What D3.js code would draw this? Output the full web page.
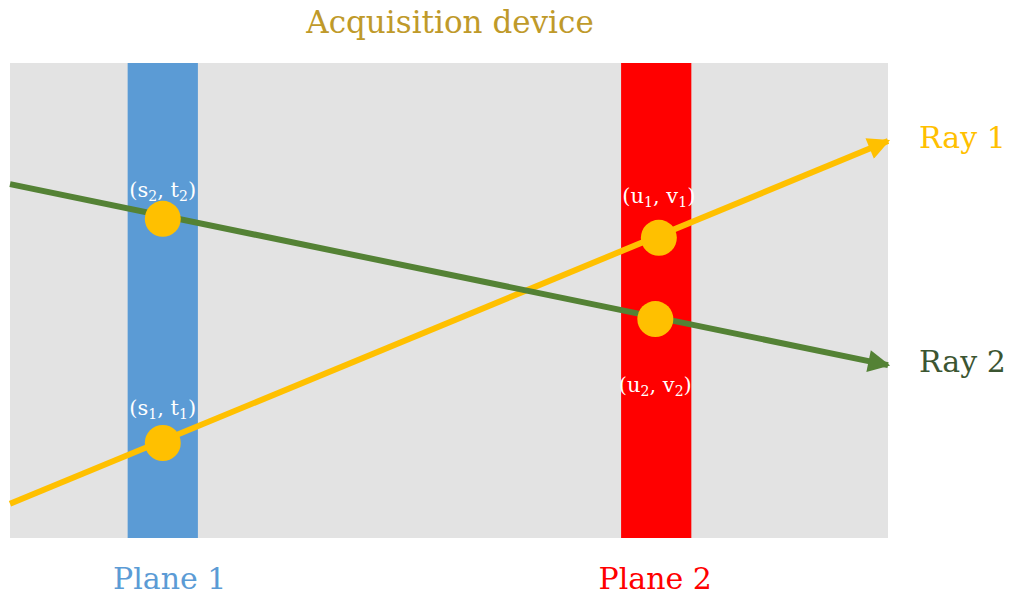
<!DOCTYPE html>
<html>
  <head>
    <meta charset="utf-8">
    <script src="https://d3js.org/d3.v7.min.js"></script>
    <style>
      body { margin: 0; background: #fff; }
      text { font-family: "DejaVu Serif", "Liberation Serif", serif; }
    </style>
  </head>
  <body>
    <div id="diagram"></div>
    <script>
      // device coordinates: 0..100 both ways, y going up
      var planes = ["Plane 1", "Plane 2"];
      var planeX = [17.4, 73.6];
      var planeColors = ["#5b9bd5", "#ff0000"];

      var rays = ["Ray 1", "Ray 2"];
      var rayStart = [[0, 7.2], [0, 74.5]];
      var rayEnd = [[100, 83.6], [100, 36.4]];
      var rayColors = ["#ffc000", "#548235"];
      var rayLabelColors = ["#ffc000", "#3b5531"];

      // intersection points
      var hitLabels = [["s", "t", "1"], ["s", "t", "2"], ["u", "v", "1"], ["u", "v", "2"]];
      var hitX = [17.4, 17.4, 73.9, 73.5];
      var hitY = [20.0, 67.2, 63.2, 46.1];

      var width = 1011, height = 598;

      var x = d3.scaleLinear().domain([0, 100]).range([10, 888]);
      var y = d3.scaleLinear().domain([0, 100]).range([538, 63]);

      // label placement, pixels from the point
      var hitLabelDy = [-28, -22, -35, 73];
      var planeLabelDx = [7, -1];

      var svg = d3.select("#diagram").append("svg")
        .attr("width", width)
        .attr("height", height);

      var defs = svg.append("defs");
      rayColors.forEach(function(c, i) {
        defs.append("marker")
          .attr("id", "arrow" + i)
          .attr("viewBox", "0 0 10 10")
          .attr("refX", 9)
          .attr("refY", 5)
          .attr("markerUnits", "userSpaceOnUse")
          .attr("markerWidth", 28)
          .attr("markerHeight", 22)
          .attr("orient", "auto")
          .append("path")
          .attr("d", "M0,0 L10,5 L0,10 z")
          .style("fill", c);
      });

      // device background
      svg.append("rect")
        .attr("x", x(0))
        .attr("y", y(100))
        .attr("width", x(100) - x(0))
        .attr("height", y(0) - y(100))
        .style("fill", "#e3e3e3");

      svg.append("text")
        .attr("x", 450)
        .attr("y", 33)
        .attr("text-anchor", "middle")
        .style("font-size", "31px")
        .style("fill", "#bf9a2a")
        .text("Acquisition device");

      // planes
      var bandW = x(8) - x(0);
      svg.selectAll(".plane")
        .data(planes)
        .enter()
        .append("rect")
        .attr("class", "plane")
        .attr("x", function(d, i) { return x(planeX[i]) - bandW / 2; })
        .attr("y", y(100))
        .attr("width", bandW)
        .attr("height", y(0) - y(100))
        .style("fill", function(d, i) { return planeColors[i]; });

      svg.selectAll(".planeLabel")
        .data(planes)
        .enter()
        .append("text")
        .attr("class", "planeLabel")
        .attr("x", function(d, i) { return x(planeX[i]) + planeLabelDx[i]; })
        .attr("y", 589)
        .attr("text-anchor", "middle")
        .style("font-size", "30px")
        .style("fill", function(d, i) { return planeColors[i]; })
        .text(function(d) { return d; });

      // rays
      svg.selectAll(".ray")
        .data(rays)
        .enter()
        .append("line")
        .attr("class", "ray")
        .attr("x1", function(d, i) { return x(rayStart[i][0]); })
        .attr("y1", function(d, i) { return y(rayStart[i][1]); })
        .attr("x2", function(d, i) { return x(rayEnd[i][0]); })
        .attr("y2", function(d, i) { return y(rayEnd[i][1]); })
        .attr("marker-end", function(d, i) { return "url(#arrow" + i + ")"; })
        .style("stroke", function(d, i) { return rayColors[i]; })
        .style("stroke-width", 6);

      svg.selectAll(".rayLabel")
        .data(rays)
        .enter()
        .append("text")
        .attr("class", "rayLabel")
        .attr("x", 919)
        .attr("y", function(d, i) { return y(rayEnd[i][1]) + 7; })
        .style("font-size", "30px")
        .style("fill", function(d, i) { return rayLabelColors[i]; })
        .text(function(d) { return d; });

      // intersection points
      svg.selectAll(".hit")
        .data(hitLabels)
        .enter()
        .append("circle")
        .attr("class", "hit")
        .attr("cx", function(d, i) { return x(hitX[i]); })
        .attr("cy", function(d, i) { return y(hitY[i]); })
        .attr("r", 18)
        .style("fill", "#ffc000");

      var lbl = svg.selectAll(".hitLabel")
        .data(hitLabels)
        .enter()
        .append("text")
        .attr("class", "hitLabel")
        .attr("x", function(d, i) { return x(hitX[i]); })
        .attr("y", function(d, i) { return y(hitY[i]) + hitLabelDy[i]; })
        .attr("text-anchor", "middle")
        .style("font-size", "21px")
        .style("fill", "#fff");

      lbl.each(function(d) {
        var t = d3.select(this);
        t.append("tspan").text("(" + d[0]);
        t.append("tspan").attr("dy", 4).style("font-size", "14px").text(d[2]);
        t.append("tspan").attr("dy", -4).text(", " + d[1]);
        t.append("tspan").attr("dy", 4).style("font-size", "14px").text(d[2]);
        t.append("tspan").attr("dy", -4).text(")");
      });
    </script>
  </body>
</html>
